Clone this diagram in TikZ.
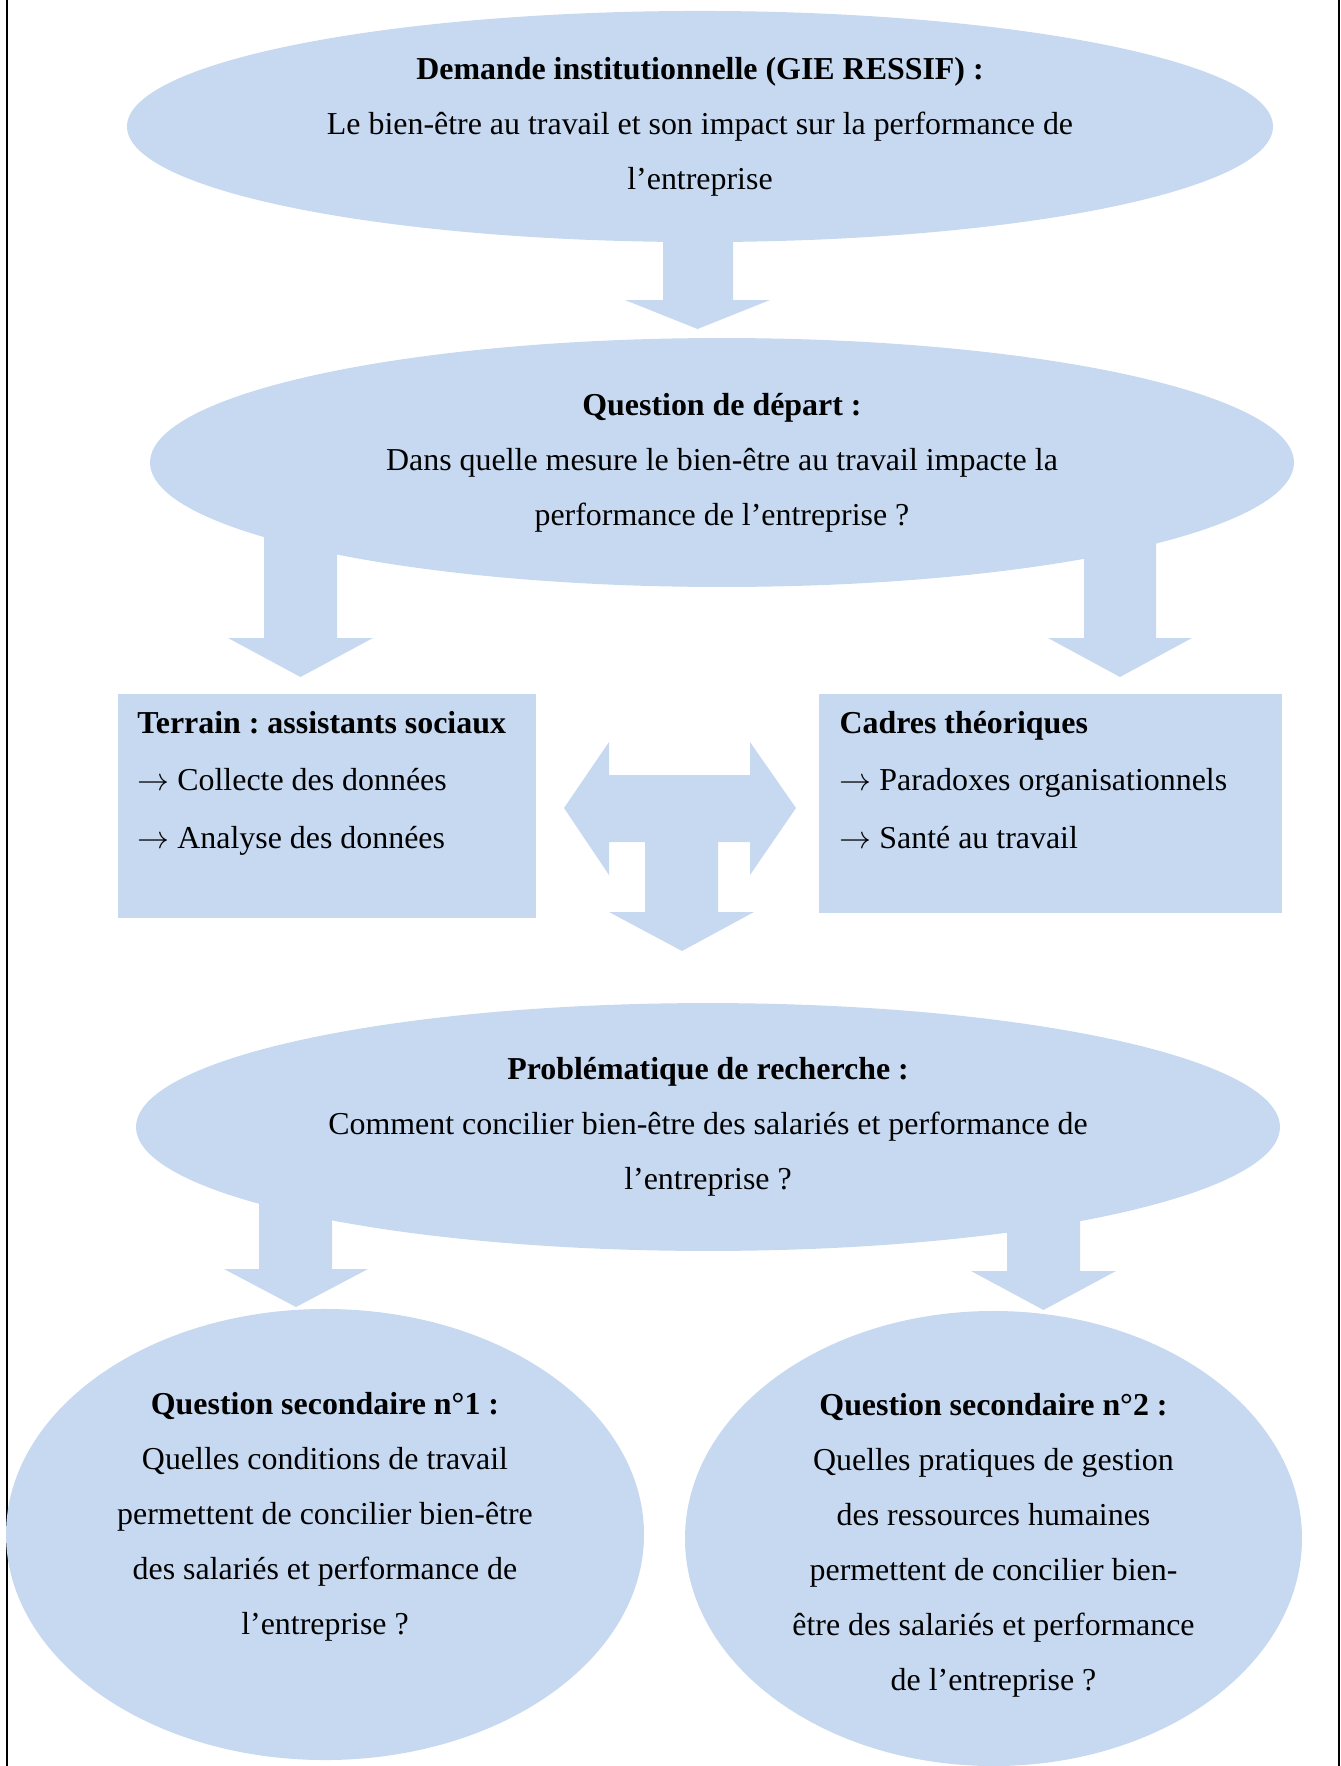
\documentclass[tikz,border=0pt]{standalone}
\usepackage{fontspec}
\setmainfont{Liberation Serif}
\usetikzlibrary{shapes.geometric,calc,backgrounds}
\definecolor{bleuclair}{HTML}{C6D9F1}
\frenchspacing
\tikzset{
  bulle/.style={ellipse,fill=bleuclair,inner sep=0pt,align=center,font=\fontsize{12}{20.7}\selectfont},
  cadre/.style={rectangle,fill=bleuclair,anchor=north west,inner ysep=6pt,text height=9pt,font=\fontsize{12}{21.6}\selectfont},
  fleche/.style={fill=bleuclair},
}
\newcommand{\contenucadre}[2]{\parbox[t]{#1}{\spaceskip=0pt\xspaceskip=0pt\raggedright #2}}
\begin{document}
\begin{tikzpicture}[x=0.376pt,y=-0.376pt]
\useasboundingbox (0,0) rectangle (1341,1766);
\draw[line width=0.6pt] (7,0) -- (7,1766);
\draw[line width=0.6pt] (1339,0) -- (1339,1766);

\node[bulle,minimum width=430.9pt,minimum height=86.9pt] (demande) at (700,126.5)
  {\textbf{Demande institutionnelle (GIE RESSIF) :}\\Le bien-être au travail et son impact sur la performance de\\l’entreprise};
\node[bulle,minimum width=430.1pt,minimum height=93.6pt] (depart) at (722,462.5)
  {\textbf{Question de départ :}\\Dans quelle mesure le bien-être au travail impacte la\\performance de l’entreprise ?};

\node[cadre,inner xsep=7.5pt,text depth=63.5pt] (terrain) at (117,693)
  {\contenucadre{142.2pt}{\mbox{\textbf{Terrain : assistants sociaux}}\\$\rightarrow$ Collecte des données\\$\rightarrow$ Analyse des données}};
\node[cadre,inner xsep=7.9pt,text depth=61.6pt] (cadres) at (818,693)
  {\contenucadre{158.3pt}{\textbf{Cadres théoriques}\\$\rightarrow$ Paradoxes organisationnels\\$\rightarrow$ Santé au travail}};

\node[bulle,minimum width=430.1pt,minimum height=93.2pt] (problematique) at (708,1127)
  {\textbf{Problématique de recherche :}\\Comment concilier bien-être des salariés et performance de\\l’entreprise ?};

\node[bulle,minimum width=239.9pt,minimum height=169.6pt] (secondaire1) at (325,1534.5)
  {\parbox[c][107pt][t]{165pt}{\centering\textbf{Question secondaire n°1 :}\\Quelles conditions de travail\\permettent de concilier bien-être\\des salariés et performance de\\l’entreprise ?}};
\node[bulle,minimum width=232pt,minimum height=171.1pt] (secondaire2) at (993.5,1538.5)
  {\parbox[c][117pt][b]{160pt}{\centering\textbf{Question secondaire n°2 :}\\Quelles pratiques de gestion\\des ressources humaines\\permettent de concilier bien-\\être des salariés et performance\\de l’entreprise ?}};

% grosses fleches
\begin{scope}[on background layer]
\fill[fleche] ($(demande.center)+(-37,0)$) -- ++(0,173.5) -- ++(-38,0) -- ++(72.5,29) -- ++(72.5,-29) -- ++(-37,0) -- ++(0,-173.5) -- cycle;
\fill[fleche] ($(depart.center)+(-458,0)$) -- ++(0,175.5) -- ++(-36,0) -- ++(72.5,39) -- ++(72.5,-39) -- ++(-36,0) -- ++(0,-175.5) -- cycle;
\fill[fleche] ($(depart.center)+(362,0)$) -- ++(0,175.5) -- ++(-36,0) -- ++(72,39) -- ++(72,-39) -- ++(-36,0) -- ++(0,-175.5) -- cycle;
\fill[fleche] ($(problematique.center)+(-449,0)$) -- ++(0,142) -- ++(-35,0) -- ++(72,38) -- ++(72,-38) -- ++(-36,0) -- ++(0,-142) -- cycle;
\fill[fleche] ($(problematique.center)+(299,0)$) -- ++(0,144) -- ++(-36,0) -- ++(72.5,39) -- ++(72.5,-39) -- ++(-36,0) -- ++(0,-144) -- cycle;
\end{scope}

% fleche entre terrain et cadres
\fill[fleche] (564,808) -- (609,742) -- (609,775) -- (750,775) -- (750,742) -- (796,808)
  -- (750,875) -- (750,842) -- (718,842) -- (718,912) -- (754,912) -- (682,951)
  -- (609,912) -- (645,912) -- (645,842) -- (609,842) -- (609,875) -- cycle;
\end{tikzpicture}
\end{document}
